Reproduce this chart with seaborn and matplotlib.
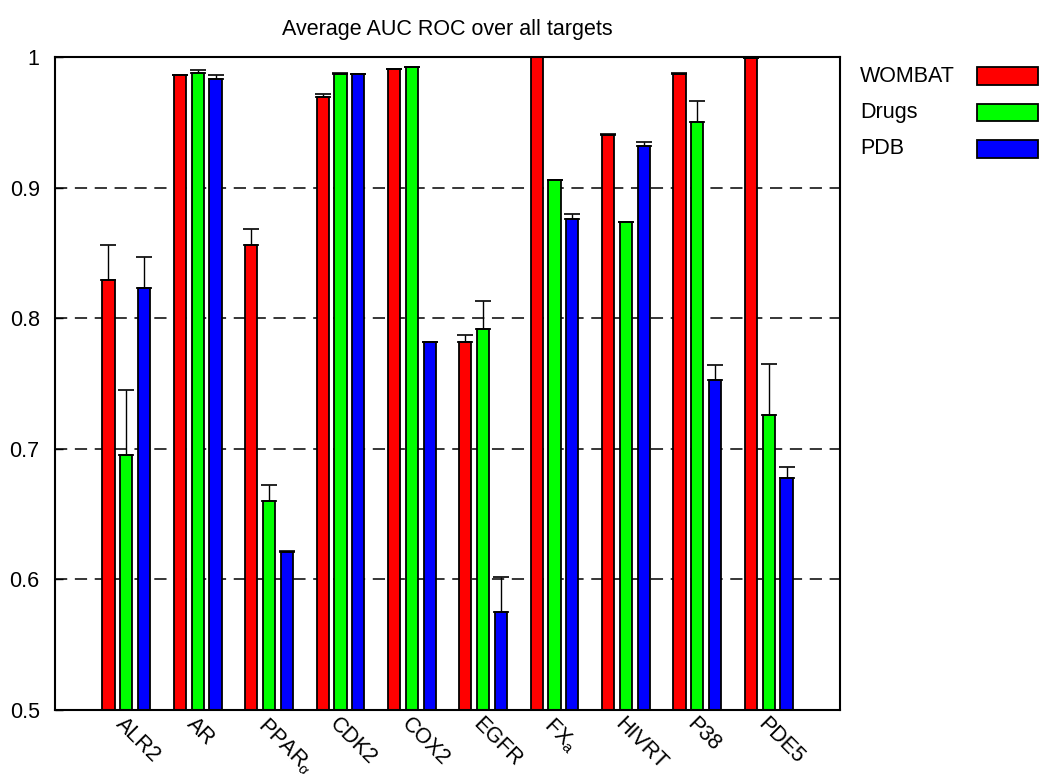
import numpy as np
import pandas as pd
import matplotlib
matplotlib.use("Agg")
import matplotlib.pyplot as plt
from matplotlib.patches import Rectangle
from matplotlib.ticker import FixedLocator, FixedFormatter
import seaborn as sns

# ---- data -------------------------------------------------------------
targets = ["ALR2", "AR", r"PPAR$_{\alpha}$", "CDK2", "COX2", "EGFR",
           r"FX$_{\mathrm{a}}$", "HIVRT", "P38", "PDE5"]
sources = ["WOMBAT", "Drugs", "PDB"]
colors = ["#ff0000", "#00ff00", "#0000ff"]

wombat = [0.829, 0.986, 0.856, 0.969, 0.991, 0.782, 1.000, 0.940, 0.987, 0.999]
wombat_err = [0.027, 0.000, 0.012, 0.003, 0.000, 0.005, 0.000, 0.001, 0.001, 0.000]
drugs = [0.695, 0.988, 0.660, 0.987, 0.992, 0.792, 0.906, 0.874, 0.950, 0.726]
drugs_err = [0.050, 0.002, 0.012, 0.001, 0.000, 0.021, 0.000, 0.000, 0.016, 0.039]
pdb = [0.823, 0.983, 0.621, 0.987, 0.782, 0.575, 0.876, 0.932, 0.753, 0.678]
pdb_err = [0.024, 0.003, 0.001, 0.000, 0.000, 0.027, 0.004, 0.003, 0.011, 0.008]

y_ticks = [0.5, 0.6, 0.7, 0.8, 0.9, 1.0]
y_tick_labels = ["0.5", "0.6", "0.7", "0.8", "0.9", "1"]
title = "Average AUC ROC over all targets"

values = [wombat, drugs, pdb]
errors = [wombat_err, drugs_err, pdb_err]

df = pd.DataFrame({
    "target": np.tile(targets, len(sources)),
    "source": np.repeat(sources, len(targets)),
    "auc": np.concatenate(values),
})

# ---- style ------------------------------------------------------------
sns.set_theme(style="white")
plt.rcParams["font.family"] = ["Liberation Sans", "DejaVu Sans"]
plt.rcParams["mathtext.fontset"] = "custom"
plt.rcParams["mathtext.rm"] = "Liberation Sans"
plt.rcParams["mathtext.it"] = "Liberation Sans:italic"
plt.rcParams["mathtext.default"] = "rm"
for key in ("text.color", "axes.labelcolor", "xtick.color", "ytick.color"):
    plt.rcParams[key] = "black"
FS = 15.5

fig = plt.figure(figsize=(10.39, 7.74), dpi=100)
ax = fig.add_axes([0.0529, 0.0827, 0.7556, 0.8437])

sns.barplot(data=df, x="target", y="auc", hue="source", order=targets,
            hue_order=sources, palette=colors, width=0.75, gap=0.32,
            edgecolor="black", linewidth=1.3, saturation=1.0,
            errorbar=None, legend=False, ax=ax)

# upward-only error bars on top of each bar
for cont, err in zip(ax.containers, errors):
    xs = [p.get_x() + p.get_width() / 2 for p in cont.patches]
    hs = [p.get_y() + p.get_height() for p in cont.patches]
    _, caps, bars = ax.errorbar(xs, hs, yerr=[np.zeros(len(err)), err],
                                fmt="none", ecolor="black", elinewidth=1.0,
                                capsize=6, capthick=1.2, zorder=3)
    for c in caps:
        c.set_color("#808080")

ax.set_xlim(-1, 10)
ax.set_ylim(0.5, 1.0)
ax.set_axisbelow(True)
ax.yaxis.grid(True, color="black", linestyle=(0, (8, 5)), linewidth=1.1)
ax.xaxis.grid(False)

ax.yaxis.set_major_locator(FixedLocator(y_ticks))
ax.yaxis.set_major_formatter(FixedFormatter(y_tick_labels))
ax.tick_params(axis="y", direction="in", length=6, width=1, pad=11,
               labelsize=FS, left=True, colors="black")
ax.tick_params(axis="x", length=0, pad=3, labelsize=FS, colors="black")
for lab in ax.get_xticklabels():
    lab.set_rotation(-45)
    lab.set_ha("left")
    lab.set_va("top")
    lab.set_rotation_mode("anchor")

for s in ax.spines.values():
    s.set_color("black")
    s.set_linewidth(1.5)

ax.set_xlabel("")
ax.set_ylabel("")
ax.set_title(title, fontsize=FS, pad=16, color="black")

# key on the right: label first, swatch after
legend_y = [0.9018, 0.8547, 0.8075]
for name, col, yc in zip(sources, colors, legend_y):
    fig.text(0.8277, yc, name, fontsize=FS, ha="left", va="center",
             color="black")
    fig.add_artist(Rectangle((0.9403, yc - 0.011), 0.0587, 0.022,
                             transform=fig.transFigure, facecolor=col,
                             edgecolor="black", linewidth=1.3))

fig.savefig("out.png", dpi=100)
